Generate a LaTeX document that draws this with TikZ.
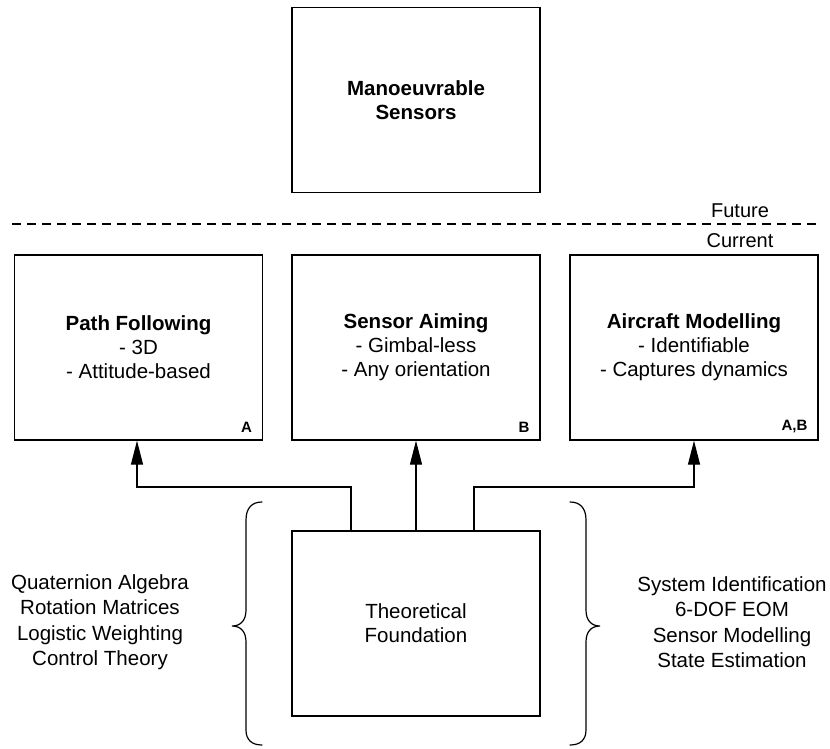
\documentclass[tikz,border=0pt]{standalone}
\usepackage{fontspec}
\setmainfont{Liberation Sans}
\usetikzlibrary{arrows.meta}
\begin{document}
\begin{tikzpicture}[x=1pt,y=-1pt,
  box/.style={draw, line width=1.3pt, minimum width=248pt, minimum height=185pt,
    align=center, font=\fontsize{20.5}{24}\selectfont, inner sep=0pt},
  tag/.style={font=\fontsize{15}{16}\selectfont\bfseries, anchor=south east, inner sep=0pt},
  link/.style={line width=1.2pt, -{Triangle[length=24pt,width=12pt]}},
  brace/.style={line width=1.2pt, line cap=round},
  side/.style={align=center, font=\fontsize{20.5}{25.5}\selectfont},
  era/.style={font=\fontsize{20}{22}\selectfont}]
\useasboundingbox (0,0) rectangle (830,749);

% boxes
\node[box] (ms) at (416,100) {\textbf{Manoeuvrable}\\\textbf{Sensors}};
\node[box] (pf) at (138.5,347.5) {\textbf{Path Following}\\- 3D\\- Attitude-based};
\node[box] (sa) at (416,347.5) {\textbf{Sensor Aiming}\\- Gimbal-less\\- Any orientation};
\node[box] (am) at (694,347.5) {\textbf{Aircraft Modelling}\\- Identifiable\\- Captures dynamics};
\node[box] (tf) at (416,623.5) {Theoretical\\Foundation};

% corner tags
\node[tag] (ta) at ([xshift=-11pt,yshift=8pt]pf.south east) {A};
\node[tag] (tb) at ([xshift=-11pt,yshift=8pt]sa.south east) {B};
\node[tag] (tab) at ([xshift=-11pt,yshift=8pt]am.south east) {A,B};

% future / current divider
\coordinate (dl) at (12,224);
\coordinate (dr) at (820,224);
\draw[line width=1.2pt, dash pattern=on 9pt off 6pt] (dl) -- (dr);
\node[era] (fut) at (740,211) {Future};
\node[era] (cur) at (740,241) {Current};

% connectors
\draw[link] ([xshift=-65pt]tf.north) |- (137,487) -- (pf.south -| 137,0);
\draw[link] (tf.north) -- (sa.south);
\draw[link] ([xshift=58pt]tf.north) |- (694,487) -- (am.south -| 694,0);

% braces
\draw[brace] (262,502) .. controls (252,502) and (246,508) .. (246,520) -- (246,610)
  .. controls (246,620) and (241,626) .. (232,626)
  .. controls (241,626) and (246,632) .. (246,642) -- (246,730)
  .. controls (246,740) and (252,745) .. (262,745);
\draw[brace] (570,502) .. controls (580,502) and (586,508) .. (586,520) -- (586,610)
  .. controls (586,620) and (591,626) .. (600,626)
  .. controls (591,626) and (586,632) .. (586,642) -- (586,730)
  .. controls (586,740) and (580,745) .. (570,745);

% side lists
\node[side] (lt) at (100,622) {Quaternion Algebra\\Rotation Matrices\\Logistic Weighting\\Control Theory};
\node[side] (rt) at (732,622) {System Identification\\6-DOF EOM\\Sensor Modelling\\State Estimation};
\end{tikzpicture}
\end{document}
